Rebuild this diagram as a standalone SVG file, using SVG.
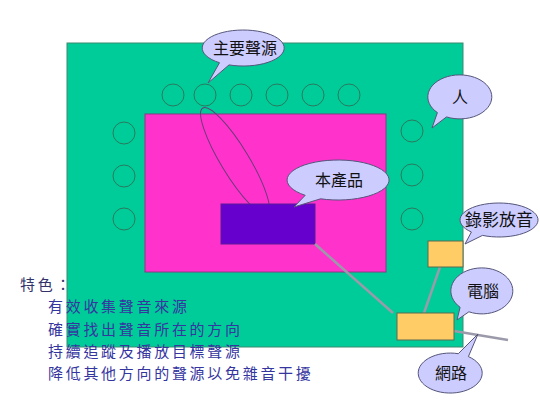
<svg xmlns="http://www.w3.org/2000/svg" width="540" height="402" viewBox="0 0 540 402">
<defs>
<style>
.mic{fill:none;stroke:#2a7a5e;stroke-width:1}
.bub{fill:#ccccff;stroke:#55557a;stroke-width:1}
.bt{font-family:"Noto Sans CJK TC","Noto Sans CJK SC",sans-serif;font-size:16px;fill:#111;text-anchor:middle}
.ft{font-family:"Noto Sans CJK TC","Noto Sans CJK SC",sans-serif;font-size:15px;letter-spacing:2.7px;fill:#3535a0}
.wire{stroke:#9a9aaa;stroke-width:2.5;fill:none}
.box{fill:#ffcc66;stroke:#5a6a50;stroke-width:1}
</style>
</defs>
<rect width="540" height="402" fill="#ffffff"/>
<g id="room">
<rect x="67" y="43" width="396" height="304" fill="#00cc99" stroke="#3a8a70" stroke-width="1"/>
</g>
<g id="mics">
<circle class="mic" cx="173" cy="95" r="11"/>
<circle class="mic" cx="205" cy="95" r="11"/>
<circle class="mic" cx="241" cy="95" r="11"/>
<circle class="mic" cx="277" cy="95" r="11"/>
<circle class="mic" cx="313" cy="95" r="11"/>
<circle class="mic" cx="349" cy="95" r="11"/>
<circle class="mic" cx="124" cy="133" r="11"/>
<circle class="mic" cx="124" cy="176" r="11"/>
<circle class="mic" cx="124" cy="219" r="11"/>
<circle class="mic" cx="412" cy="131" r="11"/>
<circle class="mic" cx="412" cy="175" r="11"/>
<circle class="mic" cx="412" cy="219" r="11"/>
</g>
<g id="area">
<rect x="145" y="114" width="241" height="158" fill="#ff33cc" stroke="#8a3a80" stroke-width="1"/>
</g>
<g id="beam">
<ellipse cx="235" cy="161" rx="62" ry="14" transform="rotate(58.7 235 161)" fill="none" stroke="#6a3a7a" stroke-width="1"/>
</g>
<g id="product">
<rect x="221" y="204" width="94" height="40" fill="#6600cc" stroke="#5a1a9a" stroke-width="1"/>
</g>
<g id="connectors">
<line class="wire" x1="315" y1="244" x2="393" y2="313"/>
<line class="wire" x1="440" y1="267" x2="424" y2="313"/>
<line class="wire" x1="454" y1="331" x2="508" y2="340"/>
</g>
<g id="recorder">
<rect class="box" x="428" y="241" width="35" height="26"/>
</g>
<g id="computer">
<rect class="box" x="397" y="313" width="57" height="27"/>
</g>
<g id="bubble-main-source">
<path class="bub" d="M229,64.9 L208,83 L219.5,62.7 A41 18 0 1 1 229,64.9 Z"/>
<text class="bt" x="245" y="54">主要聲源</text>
</g>
<g id="bubble-person">
<path class="bub" d="M446.5,116.9 L432,128 L437.4,112.6 A32 22 0 1 1 446.5,116.9 Z"/>
<text class="bt" x="460" y="103">人</text>
</g>
<g id="bubble-product">
<path class="bub" d="M320.6,198.8 L294,207 L305.2,195.3 A51 20 0 1 1 320.6,198.8 Z"/>
<text class="bt" x="339" y="186">本產品</text>
</g>
<g id="bubble-recorder">
<path class="bub" d="M482.5,235.4 L465,244 L471.4,232 A39 17 0 1 1 482.5,235.4 Z"/>
<text class="bt" x="499" y="226" style="font-size:17px">錄影放音</text>
</g>
<g id="bubble-computer">
<path class="bub" d="M468.9,311.8 L457,320 L460.1,307.3 A31 23 0 1 1 468.9,311.8 Z"/>
<text class="bt" x="483" y="297">電腦</text>
</g>
<g id="bubble-network">
<path class="bub" d="M458.3,353.7 L478,334 L468.4,356.6 A32 20 0 1 1 458.3,353.7 Z"/>
<text class="bt" x="451" y="379">網路</text>
</g>
<g id="features">
<text class="ft" x="20" y="290" style="fill:#33336a">特色：</text>
<text class="ft" x="48" y="312">有效收集聲音來源</text>
<text class="ft" x="48" y="335">確實找出聲音所在的方向</text>
<text class="ft" x="48" y="357">持續追蹤及播放目標聲源</text>
<text class="ft" x="48" y="379">降低其他方向的聲源以免雜音干擾</text>
</g>
</svg>
